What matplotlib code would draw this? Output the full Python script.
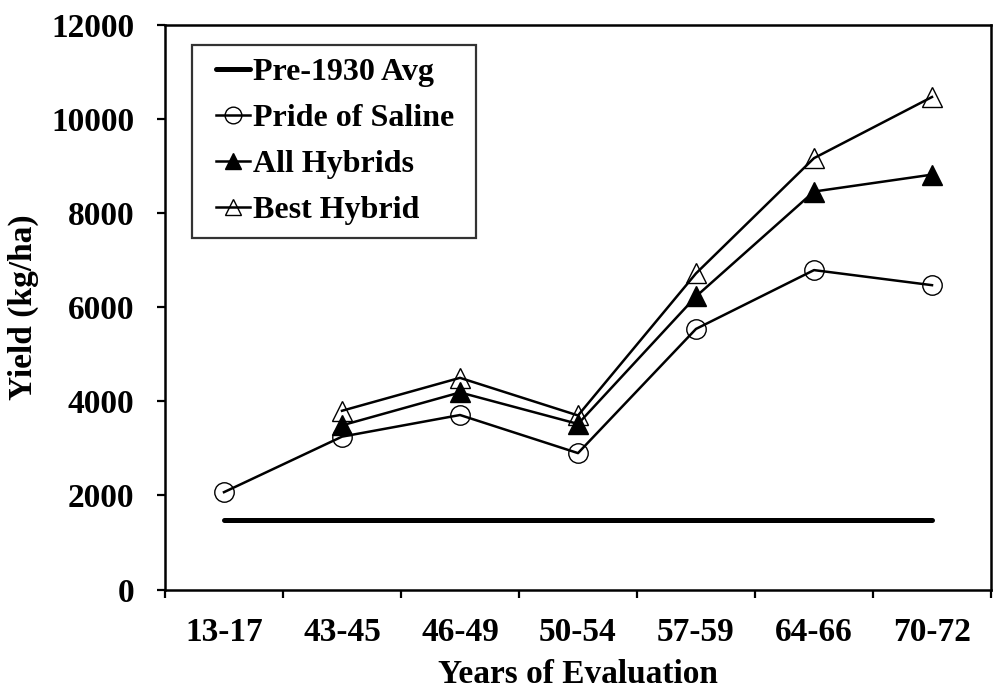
import matplotlib
matplotlib.use("Agg")
import matplotlib.pyplot as plt
from matplotlib.legend_handler import HandlerLine2D
import numpy as np

categories = ["13-17", "43-45", "46-49", "50-54", "57-59", "64-66", "70-72"]
pre1930 = [1480, 1480, 1480, 1480, 1480, 1480, 1480]
pride = [2070, 3250, 3710, 2900, 5540, 6790, 6470]
all_hybrids = [np.nan, 3490, 4190, 3520, 6230, 8460, 8820]
best_hybrid = [np.nan, 3800, 4500, 3700, 6720, 9170, 10470]

plt.rcParams['font.family'] = ['Liberation Serif', 'DejaVu Serif']
plt.rcParams['font.weight'] = 'bold'

fig = plt.figure(figsize=(10, 6.93), dpi=100)
ax = fig.add_axes([0.165, 0.1493, 0.826, 0.8146])

x = np.arange(len(categories))
l1, = ax.plot(x, pre1930, color='black', lw=3.6, solid_capstyle='round', label='Pre-1930 Avg')
l2, = ax.plot(x, pride, color='black', lw=1.8, marker='o', ms=14, mfc='none', mec='black',
              mew=1.0, label='Pride of Saline')
l3, = ax.plot(x, all_hybrids, color='black', lw=1.8, marker='^', ms=15, mfc='black', mec='black',
              mew=1.0, label='All Hybrids')
l4, = ax.plot(x, best_hybrid, color='black', lw=1.8, marker='^', ms=15, mfc='none', mec='black',
              mew=1.0, label='Best Hybrid')

ax.set_xlim(-0.5, len(categories) - 0.5)
ax.set_ylim(0, 12000)
ax.set_yticks(np.arange(0, 12001, 2000))

ax.set_xticks(np.arange(-0.5, len(categories), 1.0))
ax.set_xticklabels([])
ax.set_xticks(x, minor=True)
ax.set_xticklabels(categories, minor=True)
ax.tick_params(axis='x', which='minor', length=0, pad=20, labelsize=24)
ax.tick_params(axis='x', which='major', direction='out', length=6, width=1.6)
ax.tick_params(axis='y', direction='out', length=6, width=1.6, labelsize=24, pad=16)

for lab in ax.get_xticklabels(minor=True) + ax.get_yticklabels():
    lab.set_fontweight('bold')

for s in ax.spines.values():
    s.set_linewidth(1.8)

ax.set_xlabel('Years of Evaluation', fontsize=24, fontweight='bold', labelpad=8)
ax.set_ylabel('Yield (kg/ha)', fontsize=24, fontweight='bold', labelpad=9)

hm = {h: HandlerLine2D(xpad=0.34) for h in (l1, l2, l3, l4)}
leg = ax.legend(handles=[l1, l2, l3, l4], handler_map=hm,
                loc='upper left', bbox_to_anchor=(0.0327, 0.5, 0.3438, 0.4646),
                mode='expand', fontsize=23,
                handlelength=1.4, handletextpad=0.12, labelspacing=0.52,
                borderpad=0.4, fancybox=False, frameon=True, borderaxespad=0)
leg.get_frame().set_edgecolor('black')
leg.get_frame().set_linewidth(1.6)
for t in leg.get_texts():
    t.set_fontweight('bold')
for h in leg.legend_handles:
    try:
        h.set_markersize(12)
    except Exception:
        pass

fig.savefig('out.png', dpi=100)
